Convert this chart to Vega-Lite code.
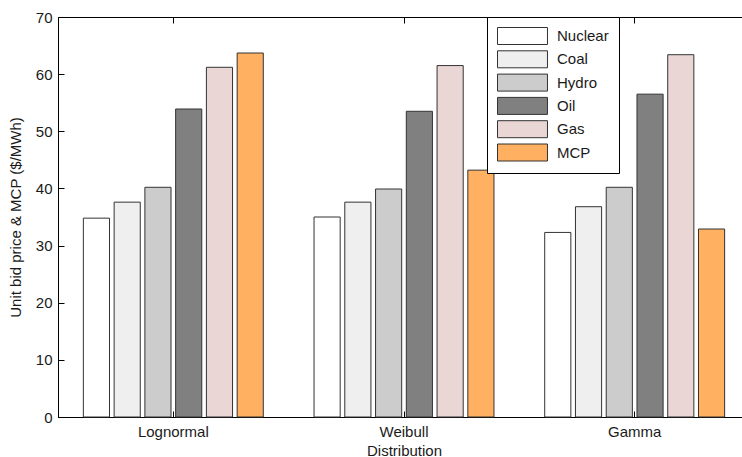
{
  "$schema": "https://vega.github.io/schema/vega-lite/v6.json",
  "autosize": {"type": "none"},
  "padding": {"left": 58, "top": 17, "right": 0, "bottom": 40},
  "width": 692,
  "height": 400,
  "background": "white",
  "config": {
    "font": "Liberation Sans",
    "view": {"stroke": "black", "strokeWidth": 1},
    "axis": {
      "domainColor": "black",
      "tickColor": "black",
      "labelColor": "#1a1a1a",
      "titleColor": "#1a1a1a",
      "labelFontSize": 15,
      "titleFontSize": 15,
      "titleFontWeight": "normal",
      "grid": false
    }
  },
  "data": {
    "values": [
      {"dist": "Lognormal", "type": "Nuclear", "price": 34.8},
      {"dist": "Lognormal", "type": "Coal", "price": 37.6},
      {"dist": "Lognormal", "type": "Hydro", "price": 40.2},
      {"dist": "Lognormal", "type": "Oil", "price": 53.9},
      {"dist": "Lognormal", "type": "Gas", "price": 61.2},
      {"dist": "Lognormal", "type": "MCP", "price": 63.7},
      {"dist": "Weibull", "type": "Nuclear", "price": 35.0},
      {"dist": "Weibull", "type": "Coal", "price": 37.6},
      {"dist": "Weibull", "type": "Hydro", "price": 39.9},
      {"dist": "Weibull", "type": "Oil", "price": 53.5},
      {"dist": "Weibull", "type": "Gas", "price": 61.5},
      {"dist": "Weibull", "type": "MCP", "price": 43.2},
      {"dist": "Gamma", "type": "Nuclear", "price": 32.3},
      {"dist": "Gamma", "type": "Coal", "price": 36.8},
      {"dist": "Gamma", "type": "Hydro", "price": 40.2},
      {"dist": "Gamma", "type": "Oil", "price": 56.5},
      {"dist": "Gamma", "type": "Gas", "price": 63.4},
      {"dist": "Gamma", "type": "MCP", "price": 32.9}
    ]
  },
  "resolve": {"axis": {"x": "independent"}},
  "encoding": {
    "xOffset": {
      "field": "type",
      "type": "nominal",
      "sort": ["Nuclear", "Coal", "Hydro", "Oil", "Gas", "MCP"],
      "scale": {"paddingInner": 0.15, "paddingOuter": 0.075}
    },
    "y": {
      "field": "price",
      "type": "quantitative",
      "scale": {"domain": [0, 70], "nice": false},
      "axis": {"title": "Unit bid price & MCP ($/MWh)", "values": [0, 10, 20, 30, 40, 50, 60, 70], "tickSize": -6, "labelPadding": 12, "titlePadding": 12}
    }
  },
  "layer": [
    {
      "mark": {"type": "bar", "stroke": "#333333", "strokeWidth": 1},
      "encoding": {
        "x": {
          "field": "dist",
          "type": "nominal",
          "sort": ["Lognormal", "Weibull", "Gamma"],
          "scale": {"paddingInner": 0.2, "paddingOuter": 0.1},
          "axis": {"orient": "bottom", "title": "Distribution", "labelAngle": 0, "tickSize": -6, "labelPadding": 13, "titlePadding": 4}
        },
        "fill": {
          "field": "type",
          "type": "nominal",
          "sort": ["Nuclear", "Coal", "Hydro", "Oil", "Gas", "MCP"],
          "scale": {
            "domain": ["Nuclear", "Coal", "Hydro", "Oil", "Gas", "MCP"],
            "range": ["#ffffff", "#efefef", "#cccccc", "#808080", "#ebd6d6", "#ffb061"]
          },
          "legend": {
            "title": null,
            "orient": "none",
            "legendX": 429,
            "legendY": 0,
            "strokeColor": "black",
            "fillColor": "white",
            "padding": 10,
            "symbolType": "M-1,-1H4.88V1H-1Z",
            "symbolSize": 289,
            "symbolStrokeColor": "#333333",
            "symbolStrokeWidth": 1,
            "labelFontSize": 15,
            "labelColor": "#1a1a1a",
            "labelOffset": 42,
            "rowPadding": 1.3
          }
        }
      }
    },
    {
      "mark": {"type": "bar", "opacity": 0},
      "encoding": {
        "x": {
          "field": "dist",
          "type": "nominal",
          "sort": ["Lognormal", "Weibull", "Gamma"],
          "axis": {"orient": "top", "title": null, "labels": false, "domain": false, "tickSize": -6}
        }
      }
    }
  ]
}
